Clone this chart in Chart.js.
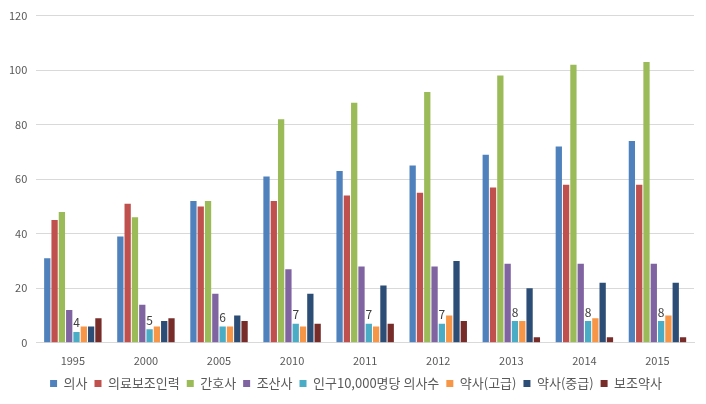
<!DOCTYPE html>
<html>
<head>
<meta charset="utf-8">
<script src="https://cdn.jsdelivr.net/npm/chart.js@4"></script>
<style>
  body { margin: 0; background: #fff; }
  #wrap { width: 706px; height: 404px; }
</style>
</head>
<body>
<div id="wrap"><canvas id="chart" width="706" height="404"></canvas></div>
<script>
// 연도
var years = ['1995', '2000', '2005', '2010', '2011', '2012', '2013', '2014', '2015'];

// 계열별 값
var doctors    = [31, 39, 52, 61, 63, 65, 69, 72, 74];
var assistants = [45, 51, 50, 52, 54, 55, 57, 58, 58];
var nurses     = [48, 46, 52, 82, 88, 92, 98, 102, 103];
var midwives   = [12, 14, 18, 27, 28, 28, 29, 29, 29];
var perTenK    = [4, 5, 6, 7, 7, 7, 8, 8, 8];
var pharmHigh  = [6, 6, 6, 6, 6, 10, 8, 9, 10];
var pharmMid   = [6, 8, 10, 18, 21, 30, 20, 22, 22];
var pharmAsst  = [9, 9, 8, 7, 7, 8, 2, 2, 2];

var seriesNames = ['의사', '의료보조인력', '간호사', '조산사', '인구10,000명당 의사수', '약사(고급)', '약사(중급)', '보조약사'];
var yTicks = [0, 20, 40, 60, 80, 100, 120];

var colors = ['#4F81BD', '#C0504D', '#9BBB59', '#8064A2', '#4BACC6', '#F79646', '#2C4D75', '#772C2A'];
var allData = [doctors, assistants, nurses, midwives, perTenK, pharmHigh, pharmMid, pharmAsst];

var datasets = allData.map(function (d, i) {
    return {
        label: seriesNames[i],
        data: d,
        backgroundColor: colors[i],
        borderWidth: 0
    };
});

// 인구10,000명당 의사수 값 표시
var labelPlugin = {
    id: 'barLabels',
    afterLayout: function (chart) {
        // 범례를 살짝 오른쪽으로
        chart.legend.left += 9;
        chart.legend.right += 9;
    },
    afterDatasetsDraw: function (chart) {
        var ctx = chart.ctx;
        var meta = chart.getDatasetMeta(4);
        ctx.save();
        ctx.font = '12px "Noto Sans CJK KR", sans-serif';
        ctx.fillStyle = '#404040';
        ctx.textAlign = 'center';
        ctx.textBaseline = 'bottom';
        meta.data.forEach(function (bar, i) {
            ctx.fillText(perTenK[i], bar.x, bar.y - 3);
        });
        ctx.restore();
    }
};

var ctx = document.getElementById('chart').getContext('2d');
var chart = new Chart(ctx, {
    type: 'bar',
    data: { labels: years, datasets: datasets },
    plugins: [labelPlugin],
    options: {
        responsive: false,
        animation: false,
        layout: { padding: { left: 0, right: 12, top: 6, bottom: 4 } },
        datasets: { bar: { categoryPercentage: 0.8, barPercentage: 0.86 } },
        plugins: {
            tooltip: { enabled: false },
            legend: {
                position: 'bottom',
                labels: {
                    usePointStyle: true,
                    pointStyle: 'rect',
                    boxWidth: 7,
                    boxHeight: 7,
                    padding: 7,
                    color: '#595959',
                    font: { family: '"Noto Sans CJK KR", sans-serif', size: 13 }
                }
            }
        },
        scales: {
            x: {
                grid: { display: false },
                border: { color: '#d9d9d9' },
                ticks: { color: '#595959', font: { family: '"Noto Sans CJK KR", sans-serif', size: 11 } }
            },
            y: {
                min: 0,
                max: 120,
                afterBuildTicks: function (axis) {
                    axis.ticks = yTicks.map(function (v) { return { value: v }; });
                },
                grid: { color: '#d9d9d9', drawTicks: false },
                border: { display: false },
                ticks: { padding: 9, color: '#595959', font: { family: '"Noto Sans CJK KR", sans-serif', size: 11 } }
            }
        }
    }
});
</script>
</body>
</html>
